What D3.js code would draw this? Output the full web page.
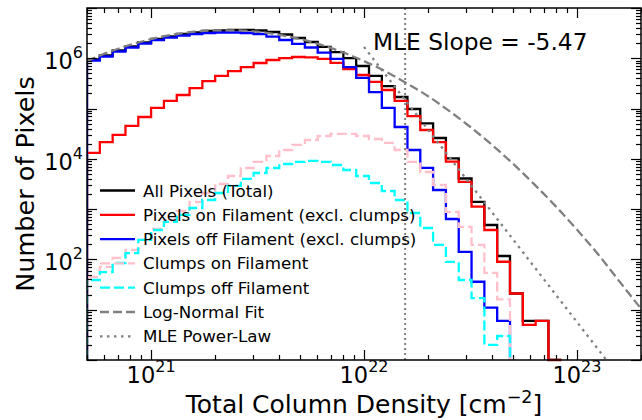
<!DOCTYPE html>
<html>
<head>
<meta charset="utf-8">
<script src="https://cdn.jsdelivr.net/npm/d3@7"></script>
<style>
  body { margin: 0; background: #fff; }
  svg { display: block; font-family: "DejaVu Sans", sans-serif; }
</style>
</head>
<body>
<svg id="chart" width="642" height="420"></svg>
<script>
// Histogram bin edges (cm^-2), logarithmic bins
const binEdges = [5.000e20, 5.743e20, 6.598e20, 7.579e20, 8.706e20, 1.000e21, 1.149e21, 1.320e21,
  1.516e21, 1.741e21, 2.000e21, 2.297e21, 2.639e21, 3.031e21, 3.482e21, 4.000e21, 4.595e21,
  5.278e21, 6.063e21, 6.964e21, 8.000e21, 9.190e21, 1.0556e22, 1.2126e22, 1.3929e22, 1.600e22,
  1.838e22, 2.111e22, 2.425e22, 2.786e22, 3.200e22, 3.676e22, 4.222e22, 4.850e22, 5.572e22,
  6.400e22, 7.352e22, 8.445e22];

// Pixel counts per bin
const allPixels = [9.46e5, 1.136e6, 1.43e6, 1.715e6, 2.06e6, 2.42e6, 2.71e6, 3.04e6, 3.26e6, 3.49e6,
  3.57e6, 3.65e6, 3.65e6, 3.57e6, 3.33e6, 2.97e6, 2.53e6, 2.11e6, 1.68e6, 1.33e6, 1.01e6, 7.03e5,
  4.45e5, 2.8e5, 1.7e5, 9.8e4, 5.1e4, 2.6e4, 1.02e4, 4.07e3, 1.39e3, 484, 117, 21, 6, 6, 1];
const onFilament = [1.31e4, 2.16e4, 2.99e4, 4.51e4, 6.8e4, 1.03e5, 1.42e5, 1.86e5, 2.56e5, 3.53e5,
  4.45e5, 5.58e5, 6.7e5, 8.06e5, 9.25e5, 1.01e6, 1.06e6, 1.04e6, 9.7e5, 8.1e5, 6.1e5, 4.65e5,
  3.4e5, 2.34e5, 1.42e5, 7.1e4, 3.75e4, 2.16e4, 8.8e3, 3.5e3, 1.12e3, 385, 90, 21, 5, 6, 1];
const offFilament = [9.04e5, 1.085e6, 1.365e6, 1.64e6, 1.97e6, 2.31e6, 2.59e6, 2.84e6, 3.04e6, 3.18e6,
  3.26e6, 3.26e6, 3.18e6, 3.04e6, 2.70e6, 2.31e6, 1.93e6, 1.64e6, 1.30e6, 9.7e5, 6.7e5, 4.06e5,
  2.13e5, 1.03e5, 4.3e4, 1.5e4, 6.6e3, 2.4e3, 637, 141, 36, 11, 6];
const clumpsOn = [45, 71, 107, 154, 244, 404, 608, 918, 1387, 2094, 3162, 4560, 6577, 8670, 1.14e4,
  1.5e4, 1.89e4, 2.37e4, 2.85e4, 3.13e4, 3.13e4, 2.85e4, 2.48e4, 2.07e4, 1.5e4, 8670, 5480, 3020,
  879, 442, 194, 54, 16];
const clumpsOff = [39, 56, 85, 134, 244, 385, 556, 766, 1054, 1520, 2094, 2890, 3981, 5236, 6577,
  7907, 8670, 9080, 8670, 7550, 6010, 4560, 3311, 2296, 1520, 839, 422, 194, 89, 39, 17, 2, 3];

// Log-normal fit sampled along column density
const lognormX = [5e20, 6.31e20, 7.94e20, 1e21, 1.26e21, 1.58e21, 2e21, 2.51e21, 3.16e21, 3.98e21,
  5.01e21, 6.31e21, 7.94e21, 1e22, 1.26e22, 1.58e22, 2e22, 2.51e22, 3.16e22, 3.98e22, 5.01e22,
  6.31e22, 7.94e22, 1e23, 1.26e23, 1.58e23, 2e23];
const lognormY = [8.8e5, 1.32e6, 1.84e6, 2.41e6, 2.94e6, 3.37e6, 3.6e6, 3.6e6, 3.37e6, 2.94e6,
  2.41e6, 1.84e6, 1.32e6, 8.8e5, 5.5e5, 3.21e5, 1.76e5, 9.0e4, 4.3e4, 1.92e4, 8.0e3, 3.1e3,
  1.15e3, 392, 125, 37, 10.5];

// Power-law tail from the maximum-likelihood fit
const mleSlope = -5.47;
const mleXmin = 1.56e22;
const mleNorm = 1.48e5;      // counts at xmin
const mleRange = [1.0e22, 2e23];

const xTickLabels = [{v: 1e21, exp: "21"}, {v: 1e22, exp: "22"}, {v: 1e23, exp: "23"}];
const yTickLabels = [{v: 1e2, exp: "2"}, {v: 1e4, exp: "4"}, {v: 1e6, exp: "6"}];

const series = [
  {name: "All Pixels (Total)", data: allPixels, color: "#000000", dash: null},
  {name: "Pixels on Filament (excl. clumps)", data: onFilament, color: "#ff0000", dash: null},
  {name: "Pixels off Filament (excl. clumps)", data: offFilament, color: "#0000ff", dash: null},
  {name: "Clumps on Filament", data: clumpsOn, color: "#ffc0cb", dash: "10,4"},
  {name: "Clumps off Filament", data: clumpsOff, color: "#00ffff", dash: "10,4"}
];

const W = 642, H = 420;
const plot = {left: 87, top: 8, right: 641, bottom: 360};

const x = d3.scaleLog().domain([5e20, 2e23]).range([plot.left, plot.right]);
const y = d3.scaleLog().domain([1, 1e7]).range([plot.bottom, plot.top]);

const svg = d3.select("#chart");
svg.append("rect").attr("width", W).attr("height", H).attr("fill", "#fff");

svg.append("defs").append("clipPath").attr("id", "plotclip")
  .append("rect")
  .attr("x", plot.left).attr("y", plot.top)
  .attr("width", plot.right - plot.left).attr("height", plot.bottom - plot.top + 1.5);

const g = svg.append("g").attr("clip-path", "url(#plotclip)");
const line = d3.line().x(d => d[0]).y(d => d[1]);

// Step outlines for each histogram
function stepPoints(counts) {
  const pts = [[x(binEdges[0]), y(1)]];
  counts.forEach((c, i) => {
    pts.push([x(binEdges[i]), y(c)]);
    pts.push([x(binEdges[i + 1]), y(c)]);
  });
  pts.push([x(binEdges[counts.length]), y(1)]);
  return pts;
}

series.forEach(s => {
  g.append("path")
    .attr("d", line(stepPoints(s.data)))
    .attr("fill", "none")
    .attr("stroke", s.color)
    .attr("stroke-width", 2.3)
    .attr("stroke-linejoin", "miter")
    .attr("stroke-dasharray", s.dash);
});

// Log-normal fit
g.append("path")
  .datum(lognormX.map((v, i) => [v, lognormY[i]]))
  .attr("d", d3.line().x(d => x(d[0])).y(d => y(d[1])).curve(d3.curveMonotoneX))
  .attr("fill", "none").attr("stroke", "#808080").attr("stroke-width", 2.3)
  .attr("stroke-dasharray", "9,4");

// Power-law tail
const plPts = mleRange.map(v => [v, mleNorm * Math.pow(v / mleXmin, mleSlope)]);
g.append("path")
  .datum(plPts)
  .attr("d", d3.line().x(d => x(d[0])).y(d => y(d[1])))
  .attr("fill", "none").attr("stroke", "#808080").attr("stroke-width", 2.3)
  .attr("stroke-dasharray", "2.5,4.5");

// xmin marker
g.append("line")
  .attr("x1", x(mleXmin)).attr("x2", x(mleXmin))
  .attr("y1", plot.top).attr("y2", plot.bottom)
  .attr("stroke", "#808080").attr("stroke-width", 2).attr("stroke-dasharray", "2,3");

// Ticks on all four sides, pointing inward
const isMajor = v => Math.abs(Math.log10(v) - Math.round(Math.log10(v))) < 1e-6;
const axes = svg.append("g").attr("stroke", "#000").attr("stroke-width", 1.2);
x.ticks().filter(v => v >= 5e20 && v <= 2e23).forEach(v => {
  const len = isMajor(v) ? 10 : 5;
  const px = Math.round(x(v)) + 0.5;
  axes.append("line").attr("x1", px).attr("x2", px).attr("y1", plot.bottom).attr("y2", plot.bottom - len);
  axes.append("line").attr("x1", px).attr("x2", px).attr("y1", plot.top).attr("y2", plot.top + len);
});
y.ticks().forEach(v => {
  const len = isMajor(v) ? 10 : 5;
  const py = Math.round(y(v)) + 0.5;
  axes.append("line").attr("x1", plot.left).attr("x2", plot.left + len).attr("y1", py).attr("y2", py);
  axes.append("line").attr("x1", plot.right).attr("x2", plot.right - len).attr("y1", py).attr("y2", py);
});

// Frame
svg.append("rect")
  .attr("x", plot.left).attr("y", plot.top)
  .attr("width", plot.right - plot.left).attr("height", plot.bottom - plot.top)
  .attr("fill", "none").attr("stroke", "#000").attr("stroke-width", 1.5);

// Tick labels
xTickLabels.forEach(t => {
  const txt = svg.append("text")
    .attr("x", x(t.v)).attr("y", 383)
    .attr("text-anchor", "middle").attr("font-size", 22.5).attr("fill", "#000");
  txt.append("tspan").text("10");
  txt.append("tspan").attr("dy", -11).attr("font-size", 16).text(t.exp);
});
yTickLabels.forEach(t => {
  const txt = svg.append("text")
    .attr("x", 83).attr("y", y(t.v) + 11)
    .attr("text-anchor", "end").attr("font-size", 22.5).attr("fill", "#000");
  txt.append("tspan").text("10");
  txt.append("tspan").attr("dy", -11).attr("font-size", 16).text(t.exp);
});

// Axis titles
const xt = svg.append("text")
  .attr("x", (plot.left + plot.right) / 2).attr("y", 413)
  .attr("text-anchor", "middle").attr("font-size", 25).attr("fill", "#000");
xt.append("tspan").text("Total Column Density [cm");
xt.append("tspan").attr("dy", -10).attr("font-size", 17.5).text("\u22122");
xt.append("tspan").attr("dy", 10).text("]");

svg.append("text")
  .attr("transform", `translate(34,${(plot.top + plot.bottom) / 2}) rotate(-90)`)
  .attr("text-anchor", "middle").attr("font-size", 25.5).attr("fill", "#000")
  .text("Number of Pixels");

// Slope annotation
svg.append("text")
  .attr("x", 373).attr("y", 50)
  .attr("font-size", 23.3).attr("fill", "#000")
  .text(`MLE Slope = ${mleSlope.toFixed(2)}`);

// Legend
const legendItems = series.map(s => ({name: s.name, color: s.color, dash: s.dash}))
  .concat([
    {name: "Log-Normal Fit", color: "#808080", dash: "9,4"},
    {name: "MLE Power-Law", color: "#808080", dash: "2.5,4.5"}
  ]);
const legend = svg.append("g");
legendItems.forEach((d, i) => {
  const ly = 190.5 + i * 24.3;
  legend.append("line")
    .attr("x1", 100).attr("x2", 135).attr("y1", ly).attr("y2", ly)
    .attr("stroke", d.color).attr("stroke-width", 2.3)
    .attr("stroke-dasharray", d.dash);
  legend.append("text")
    .attr("x", 143).attr("y", ly + 6)
    .attr("font-size", 16.7).attr("fill", "#000")
    .text(d.name);
});
</script>
</body>
</html>
